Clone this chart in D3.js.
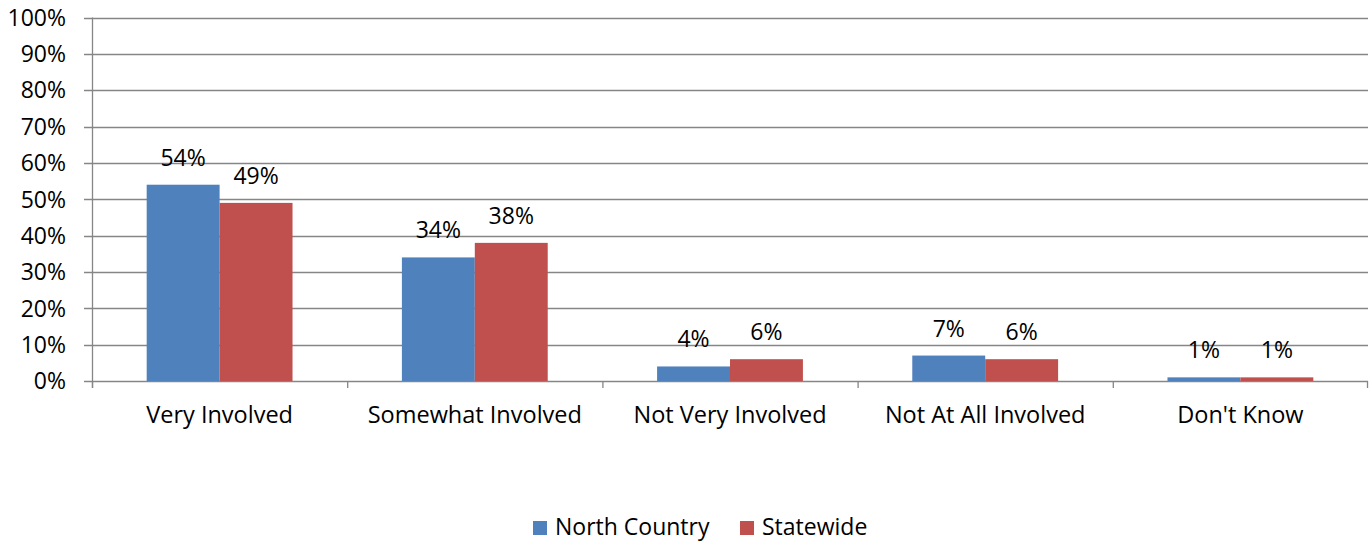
<!DOCTYPE html>
<html><head><meta charset="utf-8">
<script src="https://cdn.jsdelivr.net/npm/d3@7"></script>
<style>body{margin:0;background:#fff}svg{display:block}text{font-family:"Open Sans",sans-serif;fill:#000}</style>
</head><body><svg id="c" width="1372" height="541"></svg>
<script>
const categories = ["Very Involved","Somewhat Involved","Not Very Involved","Not At All Involved","Don't Know"];
const seriesNames = ["North Country","Statewide"];
const northCountry = [54,34,4,7,1];
const statewide = [49,38,6,6,1];
const yTicks = [0,10,20,30,40,50,60,70,80,90,100];
const colors = ["#4F81BD","#C0504D"];

const svg = d3.select("#c");
const L=92,R=1368,T=17.5,B=381;
const FS=23;
const x = d3.scaleBand().domain(categories).range([L,R]).paddingInner(0).paddingOuter(0);
const y = d3.scaleLinear().domain([0,100]).range([B,T]);
const inner = d3.scaleBand().domain(seriesNames).range([0,x.bandwidth()]).paddingInner(0).paddingOuter(0.75);

const gridColor="#868686";
svg.append("g").selectAll("line").data(yTicks).join("line")
  .attr("x1",L-8).attr("x2",R).attr("y1",d=>Math.round(y(d))+0.5).attr("y2",d=>Math.round(y(d))+0.5)
  .attr("stroke",gridColor).attr("stroke-width",1.3);
svg.append("line").attr("x1",L+0.5).attr("x2",L+0.5).attr("y1",T).attr("y2",B+7).attr("stroke",gridColor).attr("stroke-width",1.3);
svg.append("g").selectAll("line").data(d3.range(categories.length+1)).join("line")
  .attr("x1",i=>i<categories.length?x(categories[i])+0.5:R-0.5).attr("x2",i=>i<categories.length?x(categories[i])+0.5:R-0.5)
  .attr("y1",B).attr("y2",B+7).attr("stroke",gridColor).attr("stroke-width",1.3);

svg.append("g").selectAll("text").data(yTicks).join("text")
  .attr("x",66).attr("y",d=>y(d)).attr("dy","0.36em").attr("text-anchor","end").attr("font-size",FS).text(d=>d+"%");

const series=[northCountry,statewide];
series.forEach((vals,si)=>{
  const g=svg.append("g");
  g.selectAll("rect").data(vals).join("rect")
    .attr("x",(d,i)=>x(categories[i])+inner(seriesNames[si]))
    .attr("width",inner.bandwidth())
    .attr("y",d=>y(d)).attr("height",d=>B-y(d))
    .attr("fill",colors[si]);
  g.selectAll("text").data(vals).join("text")
    .attr("x",(d,i)=>x(categories[i])+inner(seriesNames[si])+inner.bandwidth()/2)
    .attr("y",d=>y(d)-19).attr("text-anchor","middle").attr("font-size",FS).text(d=>d+"%");
});

svg.append("g").selectAll("text").data(categories).join("text")
  .attr("x",d=>x(d)+x.bandwidth()/2).attr("y",423).attr("text-anchor","middle").attr("font-size",23.5).text(d=>d);

const leg=svg.append("g");
const legX=[533,740];
seriesNames.forEach((n,i)=>{
  leg.append("rect").attr("x",legX[i]).attr("y",521).attr("width",14).attr("height",14).attr("fill",colors[i]);
  leg.append("text").attr("x",legX[i]+22).attr("y",535).attr("font-size",FS).text(n);
});
</script></body></html>
